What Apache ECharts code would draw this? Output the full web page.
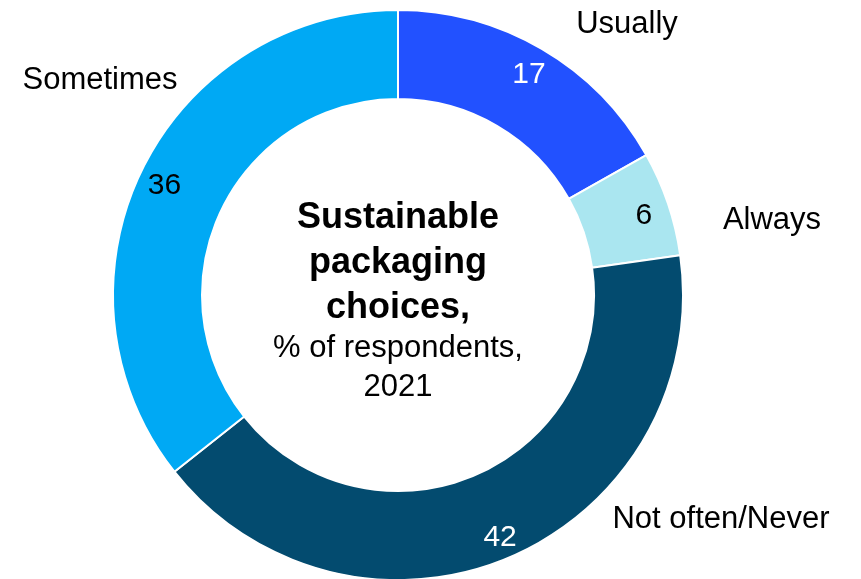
<!DOCTYPE html>
<html>
<head>
<meta charset="utf-8">
<script src="https://cdn.jsdelivr.net/npm/echarts@6/dist/echarts.min.js"></script>
<style>
html,body{margin:0;padding:0;background:#fff;}
#chart{width:861px;height:579px;}
</style>
</head>
<body>
<div id="chart"></div>
<script>
// ---- data ----
const categories = ['Usually', 'Always', 'Not often/Never', 'Sometimes'];
const values = [17, 6, 42, 36];
const titleBold = ['Sustainable', 'packaging', 'choices,'];
const subtitle = ['% of respondents,', '2021'];

// ---- style ----
const colors = ['#2251FF', '#AAE6F0', '#034B6F', '#00A9F4'];
const valueColors = ['#FFFFFF', '#000000', '#FFFFFF', '#000000'];
const namePos = [[627, 24], [772, 220], [721, 519], [100, 80]];
const FONT = '"Liberation Sans", Arial, sans-serif';
const CX = 398, CY = 295;

const chart = echarts.init(document.getElementById('chart'), null, {renderer: 'canvas'});

const ringData = categories.map((c, i) => ({
  name: c, value: values[i],
  itemStyle: {color: colors[i]}
}));
const valueData = categories.map((c, i) => ({
  name: c, value: values[i],
  label: {color: valueColors[i]}
}));

const graphics = [];
const boldY = [218, 263, 308];
titleBold.forEach((t, i) => graphics.push({
  type: 'text', x: CX, y: boldY[i], silent: true,
  style: {text: t, font: 'bold 36px ' + FONT, fill: '#000', align: 'center', verticalAlign: 'middle'}
}));
const subY = [348, 387];
subtitle.forEach((t, i) => graphics.push({
  type: 'text', x: CX, y: subY[i], silent: true,
  style: {text: t, font: '31px ' + FONT, fill: '#000', align: 'center', verticalAlign: 'middle'}
}));

chart.setOption({
  animation: false,
  backgroundColor: '#fff',
  graphic: graphics,
  series: [
    {
      type: 'pie',
      center: [CX, CY],
      radius: [196, 285],
      startAngle: 90,
      clockwise: true,
      silent: true,
      itemStyle: {borderColor: '#fff', borderWidth: 2},
      label: {
        show: true, position: 'outside', overflow: 'none',
        formatter: '{b}', fontFamily: FONT, fontSize: 31, color: '#000'
      },
      labelLine: {show: false},
      labelLayout: function (p) {
        const pos = namePos[p.dataIndex];
        return {x: pos[0], y: pos[1], align: 'center', verticalAlign: 'middle', moveOverlap: null, hideOverlap: false};
      },
      data: ringData
    },
    {
      type: 'pie',
      center: [CX, CY],
      radius: [228, 285],
      startAngle: 90,
      clockwise: true,
      silent: true,
      itemStyle: {color: 'rgba(0,0,0,0)'},
      label: {
        show: true, position: 'inside', overflow: 'none',
        formatter: '{c}', fontFamily: FONT, fontSize: 30
      },
      labelLine: {show: false},
      labelLayout: {dy: 4, hideOverlap: false},
      data: valueData
    }
  ]
});
</script>
</body>
</html>
